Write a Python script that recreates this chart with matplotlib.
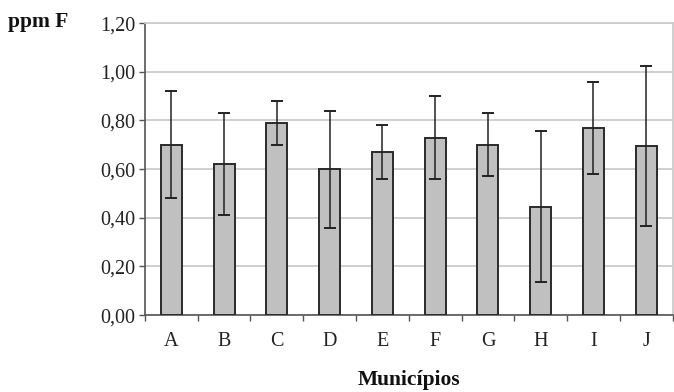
import matplotlib
matplotlib.use("Agg")
import matplotlib.pyplot as plt
import numpy as np
from matplotlib.ticker import FixedLocator

categories = ["A", "B", "C", "D", "E", "F", "G", "H", "I", "J"]
means = [0.70, 0.62, 0.79, 0.60, 0.67, 0.73, 0.70, 0.445, 0.77, 0.695]
sds = [0.22, 0.21, 0.09, 0.24, 0.11, 0.17, 0.13, 0.31, 0.19, 0.33]
yticks = [0.0, 0.2, 0.4, 0.6, 0.8, 1.0, 1.2]

plt.rcParams['font.family'] = ['Liberation Serif', 'DejaVu Serif']

fig = plt.figure(figsize=(6.74, 3.92), dpi=100)
ax = fig.add_axes([0.215, 0.196, 0.783, 0.745])

x = np.arange(len(categories))
ax.bar(x, means, width=0.4, color="#c0c0c0", edgecolor="#2a2a2a", linewidth=1.4, zorder=3)
ax.errorbar(x, means, yerr=sds, fmt="none", ecolor="#222222", elinewidth=1.1,
            capsize=4.3, capthick=1.4, zorder=4)

ax.set_xlim(-0.5, len(categories) - 0.5)
ax.set_ylim(0, 1.2)
ax.set_yticks(yticks)
ax.set_yticklabels([f"{v:.2f}".replace(".", ",") for v in yticks], fontsize=14.5, color="#222222")
ax.yaxis.grid(True, color="#cccccc", linewidth=1.3, zorder=0)
ax.set_axisbelow(True)

ax.set_xticks(x)
ax.set_xticklabels(categories, fontsize=14.5, color="#222222")
ax.tick_params(axis="x", which="major", length=0, pad=12)
ax.xaxis.set_minor_locator(FixedLocator(np.arange(-0.5, len(categories), 1.0)))
ax.tick_params(axis="x", which="minor", length=4, width=1, color="#555555")
ax.tick_params(axis="y", length=4, width=1, color="#555555", pad=3)

for s in ["top", "right"]:
    ax.spines[s].set_color("#cccccc")
    ax.spines[s].set_linewidth(1.3)
for s in ["left", "bottom"]:
    ax.spines[s].set_color("#555555")
    ax.spines[s].set_linewidth(1.2)

fig.text(0.012, 0.943, "ppm F", fontsize=15.5, fontweight="bold", ha="left", va="center", color="#111111")
ax.set_xlabel("Municípios", fontsize=15.5, fontweight="bold", color="#111111", labelpad=14)

fig.savefig("out.png", dpi=100)
